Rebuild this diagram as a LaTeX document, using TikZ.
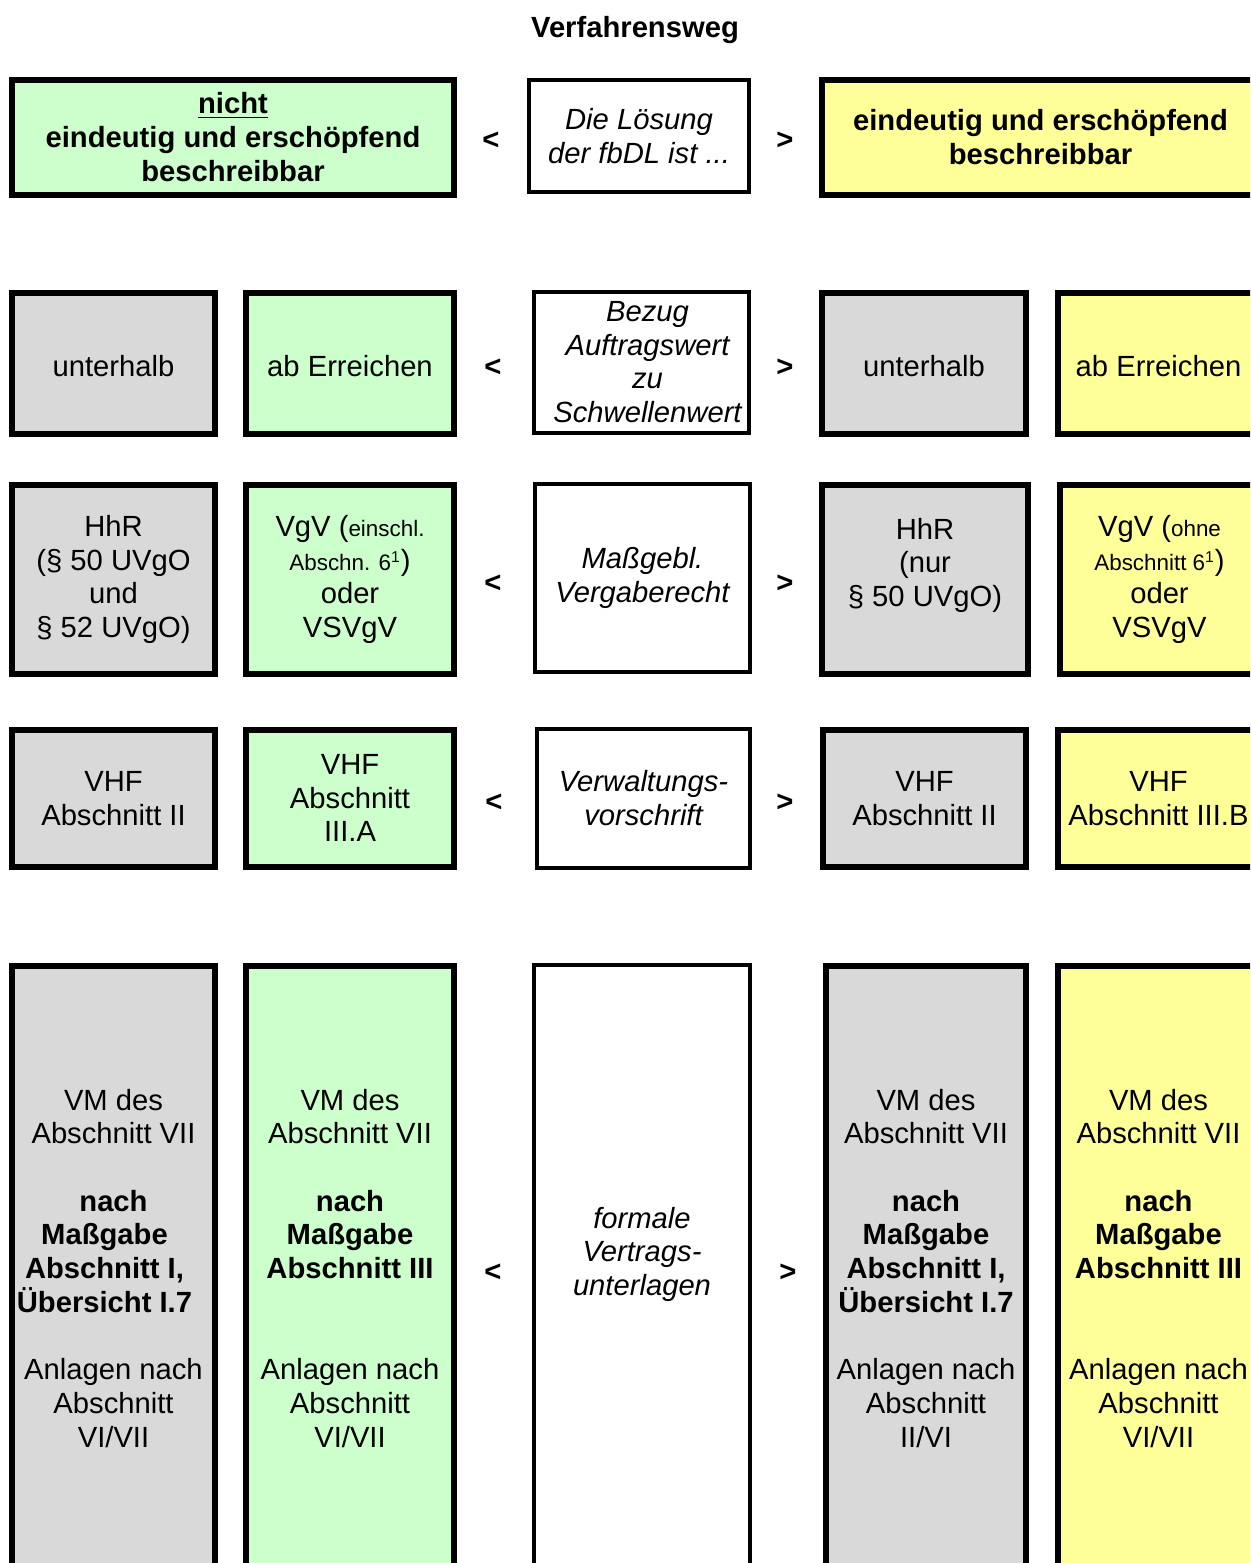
\documentclass[tikz,border=0pt]{standalone}
\usepackage{fontspec}
\setmainfont{Liberation Sans}
\definecolor{cgray}{HTML}{D9D9D9}
\definecolor{cgreen}{HTML}{CCFFCC}
\definecolor{cyellow}{HTML}{FFFF99}
\newcommand{\smtxt}[1]{{\fontsize{11.2pt}{16.85pt}\selectfont #1}}
\newcommand{\shl}{\rule{9pt}{0pt}}
\newcommand{\lstrut}{\rule[-0.4pt]{0pt}{16.85pt}}
\newcommand{\onestrut}{\rule[-3pt]{0pt}{17.4pt}}
\tikzset{
  base/.style={draw=black, align=center, inner sep=0pt, font=\fontsize{14.6pt}{16.85pt}\selectfont,
    execute at begin node=\lstrut, execute at end node=\lstrut},
  oneline/.style={execute at begin node=\onestrut, execute at end node={}},
  thickbox/.style={base, line width=3pt},
  thinbox/.style={base, line width=2pt, fill=white, font=\fontsize{14.6pt}{16.85pt}\selectfont\itshape},
  graybox/.style={thickbox, fill=cgray},
  greenbox/.style={thickbox, fill=cgreen},
  yellowbox/.style={thickbox, fill=cyellow},
  cmp/.style={inner sep=0pt, font=\fontsize{14.6pt}{16.85pt}\selectfont\bfseries},
}
\begin{document}
\begin{tikzpicture}[x=0.5pt,y=-0.5pt]
\useasboundingbox (0,0) rectangle (1250,1563);
\fill[white] (0,0) rectangle (1250,1563);
\clip (0,0) rectangle (1250,1563);

\node[cmp] (title) at (635,30) {Verfahrensweg};

% Row 1
\node[greenbox, font=\fontsize{14.6pt}{16.85pt}\selectfont\bfseries, minimum width=221pt, minimum height=57.5pt] (r1l) at (233,137.5)
  {\underline{nicht}\\ eindeutig und erschöpfend\\ beschreibbar};
\node[thinbox, minimum width=110pt, minimum height=56pt] (r1m) at (639,136) {Die Lösung\\ der fbDL ist ...};
\node[yellowbox, font=\fontsize{14.6pt}{16.85pt}\selectfont\bfseries, minimum width=218.5pt, minimum height=57.5pt] (r1r) at (1040.5,137.5)
  {eindeutig und erschöpfend\\ beschreibbar};
\node[cmp] (r1lt) at (491,141) {<};
\node[cmp] (r1gt) at (785,141) {>};

% Row 2
\node[graybox, oneline, minimum width=101.5pt, minimum height=70.5pt] (r2a) at (113.5,363.5) {unterhalb};
\node[greenbox, oneline, minimum width=104pt, minimum height=70.5pt] (r2b) at (350,363.5) {ab Erreichen};
\node[thinbox, minimum width=107.5pt, minimum height=70.5pt] (r2m) at (641.5,362.5)
  {\hspace*{6pt}Bezug\\ \hspace*{6pt}Auftragswert\\ \hspace*{6pt}zu\\ \hspace*{6pt}Schwellenwert};
\node[graybox, oneline, minimum width=102pt, minimum height=70.5pt] (r2c) at (924,363.5) {unterhalb};
\node[yellowbox, oneline, minimum width=100.5pt, minimum height=70.5pt] (r2d) at (1158.5,363.5) {ab Erreichen};
\node[cmp] (r2lt) at (493,368) {<};
\node[cmp] (r2gt) at (785,368) {>};

% Row 3
\node[graybox, minimum width=101.5pt, minimum height=94.5pt] (r3a) at (113.5,579.5) {HhR\\ (§ 50 UVgO\\ und\\ § 52 UVgO)};
\node[greenbox, minimum width=104pt, minimum height=94.5pt] (r3b) at (350,579.5)
  {VgV (\smtxt{einschl.}\\ \smtxt{Abschn. 6\textsuperscript{1}})\\ oder\\ VSVgV};
\node[thinbox, minimum width=107.5pt, minimum height=94pt] (r3m) at (642.5,578) {Maßgebl.\\ Vergaberecht};
\node[graybox, minimum width=103pt, minimum height=94.5pt] (r3c) at (925,579.5) {HhR\\ (nur\\ § 50 UVgO)\\ };
\node[yellowbox, minimum width=99.5pt, minimum height=94.5pt] (r3d) at (1159.5,579.5)
  {VgV (\smtxt{ohne}\\ \smtxt{Abschnitt 6\textsuperscript{1}})\\ oder\\ VSVgV};
\node[cmp] (r3lt) at (493,584) {<};
\node[cmp] (r3gt) at (785,584) {>};

% Row 4
\node[graybox, minimum width=101.5pt, minimum height=68.5pt] (r4a) at (113.5,798.5) {VHF\\ Abschnitt II};
\node[greenbox, minimum width=104pt, minimum height=68.5pt] (r4b) at (350,798.5) {VHF\\ Abschnitt\\ III.A};
\node[thinbox, minimum width=106.5pt, minimum height=69.5pt] (r4m) at (643.5,798.5) {Verwaltungs-\\ vorschrift};
\node[graybox, minimum width=101.5pt, minimum height=68.5pt] (r4c) at (924.5,798.5) {VHF\\ Abschnitt II};
\node[yellowbox, minimum width=100.5pt, minimum height=68.5pt] (r4d) at (1158.5,798.5) {VHF\\ Abschnitt III.B};
\node[cmp] (r4lt) at (494,803) {<};
\node[cmp] (r4gt) at (785,803) {>};

% Row 5
\node[graybox, minimum width=101.5pt, minimum height=302.5pt] (r5a) at (113.5,1268.5)
  {VM des\\ Abschnitt VII\\[16.85pt] \textbf{nach}\\ \textbf{Maßgabe}\shl\\ \textbf{Abschnitt I,}\shl\\ \textbf{Übersicht I.7}\shl\\[16.85pt] Anlagen nach\\ Abschnitt\\ VI/VII};
\node[greenbox, minimum width=104pt, minimum height=302.5pt] (r5b) at (350,1268.5)
  {VM des\\ Abschnitt VII\\[16.85pt] \textbf{nach}\\ \textbf{Maßgabe}\\ \textbf{Abschnitt III}\\[33.7pt] Anlagen nach\\ Abschnitt\\ VI/VII};
\node[thinbox, minimum width=108pt, minimum height=303.5pt] (r5m) at (642,1268.5) {formale\\ Vertrags-\\ unterlagen\\ };
\node[graybox, minimum width=100pt, minimum height=302.5pt] (r5c) at (926,1268.5)
  {VM des\\ Abschnitt VII\\[16.85pt] \textbf{nach}\\ \textbf{Maßgabe}\\ \textbf{Abschnitt I,}\\ \textbf{Übersicht I.7}\\[16.85pt] Anlagen nach\\ Abschnitt\\ II/VI};
\node[yellowbox, minimum width=100.5pt, minimum height=302.5pt] (r5d) at (1158.5,1268.5)
  {VM des\\ Abschnitt VII\\[16.85pt] \textbf{nach}\\ \textbf{Maßgabe}\\ \textbf{Abschnitt III}\\[33.7pt] Anlagen nach\\ Abschnitt\\ VI/VII};
\node[cmp] (r5lt) at (493,1273) {<};
\node[cmp] (r5gt) at (788,1273) {>};
\end{tikzpicture}
\end{document}
